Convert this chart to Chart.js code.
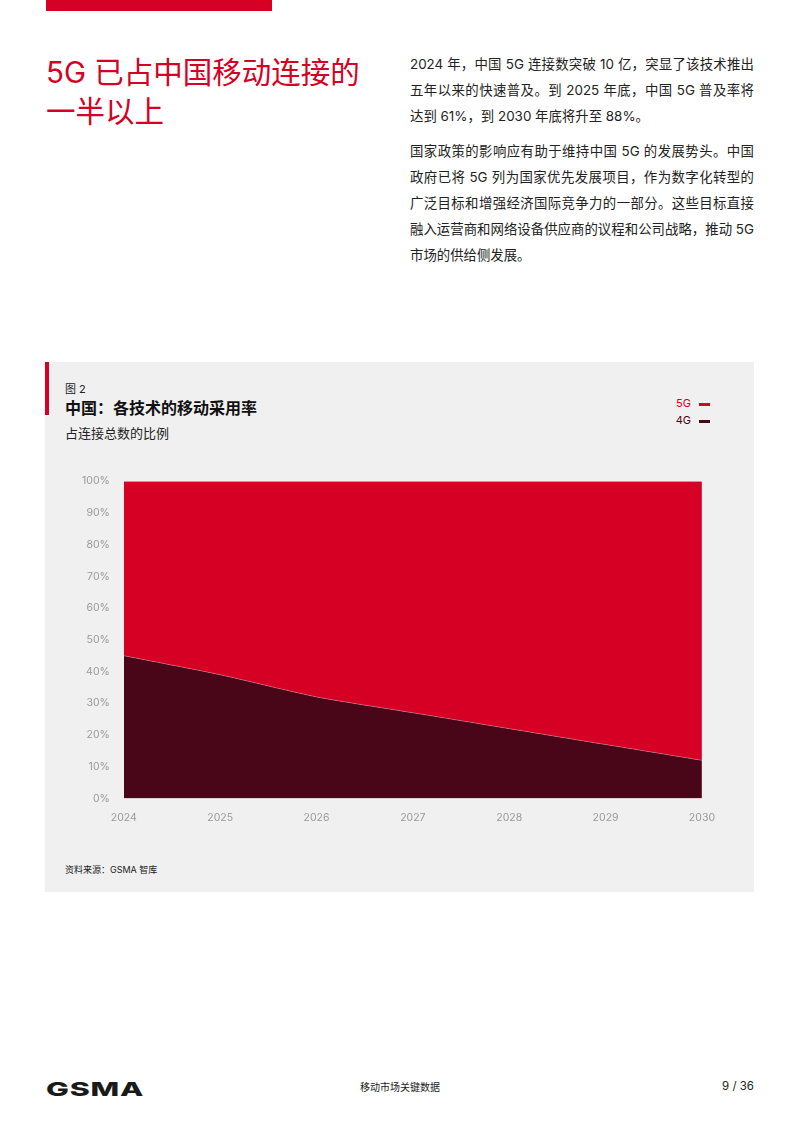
<!DOCTYPE html>
<html>
<head>
<meta charset="utf-8">
<script src="https://cdn.jsdelivr.net/npm/chart.js@4"></script>
<style>
  body { margin:0; width:800px; height:1131px; position:relative; background:#fff;
         font-family: "Inter", "Noto Sans CJK SC", sans-serif; color:#222; }
  .topbar { position:absolute; left:46px; top:0; width:226px; height:11px; background:#d50024; }
  .title { position:absolute; left:46px; top:53px; font-size:29.5px; line-height:39px; color:#d50024; white-space:nowrap; }
  .body { position:absolute; left:410px; top:52px; width:344px; font-size:13.4px; line-height:25.8px; color:#222; white-space:nowrap; }
  .body .para { margin:0 0 10px 0; }
  .body .j { text-align:justify; text-align-last:justify; }
  .panel { position:absolute; left:45px; top:362px; width:709px; height:530px; background:#f0f0f0; }
  .accent { position:absolute; left:45px; top:362px; width:4px; height:53px; background:#d50024; }
  .fig { position:absolute; left:65px; top:380px; font-size:11px; color:#222; }
  .ctitle { position:absolute; left:65px; top:395px; font-size:16px; font-weight:bold; color:#111; }
  .csub { position:absolute; left:65px; top:423px; font-size:13px; color:#222; }
  .legend { position:absolute; right:90px; top:395px; font-size:11px; line-height:17px; text-align:right; }
  .legend span.sw { display:inline-block; width:11px; height:3px; margin-left:8px; vertical-align:middle; }
  .source { position:absolute; left:65px; top:863px; font-size:9px; color:#222; }
  .logo { position:absolute; left:46px; top:1078px; font-size:19px; font-weight:800; color:#1a1a1a;
          font-family:"Inter", sans-serif; transform:scaleX(1.6); transform-origin:left top; letter-spacing:0.5px; }
  .foot { position:absolute; left:0; width:800px; top:1079px; text-align:center; font-size:10px; color:#222; }
  .page { position:absolute; right:46px; top:1079px; font-size:11.5px; color:#222; }
  #wrap { position:absolute; left:76px; top:469px; width:644px; height:360px; }
</style>
</head>
<body>
<div class="topbar"></div>
<div class="title">5G 已占中国移动连接的<br>一半以上</div>
<div class="body">
  <div class="para">
    <div class="j">2024 年，中国 5G 连接数突破 10 亿，突显了该技术推出</div>
    <div class="j">五年以来的快速普及。到 2025 年底，中国 5G 普及率将</div>
    <div>达到 61%，到 2030 年底将升至 88%。</div>
  </div>
  <div class="para">
    <div class="j">国家政策的影响应有助于维持中国 5G 的发展势头。中国</div>
    <div class="j">政府已将 5G 列为国家优先发展项目，作为数字化转型的</div>
    <div class="j">广泛目标和增强经济国际竞争力的一部分。这些目标直接</div>
    <div class="j">融入运营商和网络设备供应商的议程和公司战略，推动 5G</div>
    <div>市场的供给侧发展。</div>
  </div>
</div>
<div class="panel"></div>
<div class="accent"></div>
<div class="fig">图 2</div>
<div class="ctitle">中国：各技术的移动采用率</div>
<div class="csub">占连接总数的比例</div>
<div class="legend">
  <div style="color:#d50024">5G<span class="sw" style="background:#d50024"></span></div>
  <div style="color:#4a0619">4G<span class="sw" style="background:#4a0619"></span></div>
</div>
<div id="wrap"><canvas id="areaChart"></canvas></div>
<div class="source">资料来源：GSMA 智库</div>
<div class="logo">GSMA</div>
<div class="foot">移动市场关键数据</div>
<div class="page">9 / 36</div>
<script>
var years = ['2024', '2025', '2026', '2027', '2028', '2029', '2030'];
var share4G = [45, 39, 32, 27, 22, 17, 12];
var share5G = [55, 61, 68, 73, 78, 83, 88];
var yTicks = [0, 10, 20, 30, 40, 50, 60, 70, 80, 90, 100];

var ctx = document.getElementById('areaChart').getContext('2d');
var areaChart = new Chart(ctx, {
    type: 'line',
    data: {
        labels: years,
        datasets: [{
            label: '4G',
            data: share4G,
            backgroundColor: '#4a0619',
            borderColor: 'rgba(255,180,190,0.6)',
            borderWidth: 0.6,
            fill: 'origin',
            pointRadius: 0,
            tension: 0.2
        }, {
            label: '5G',
            data: share5G,
            backgroundColor: '#d50024',
            borderColor: 'rgba(0,0,0,0)',
            borderWidth: 0,
            fill: '-1',
            pointRadius: 0,
            tension: 0.2
        }]
    },
    options: {
        responsive: true,
        maintainAspectRatio: false,
        animation: false,
        layout: { padding: { left: 0, right: 0, top: 0, bottom: 0 } },
        plugins: {
            legend: { display: false },
            tooltip: { enabled: false }
        },
        scales: {
            x: {
                offset: false,
                grid: { display: false },
                border: { display: false },
                ticks: {
                    color: '#999',
                    font: { family: 'Inter', size: 10.5 },
                    padding: 5,
                    maxRotation: 0
                }
            },
            y: {
                stacked: true,
                min: 0,
                max: 100,
                afterBuildTicks: function (axis) {
                    axis.ticks = yTicks.map(function (v) { return { value: v }; });
                },
                grid: { display: false },
                border: { display: false },
                ticks: {
                    color: '#999',
                    font: { family: 'Inter', size: 10.5 },
                    padding: 6,
                    callback: function (v) { return v + '%'; }
                }
            }
        }
    }
});
</script>
</body>
</html>
